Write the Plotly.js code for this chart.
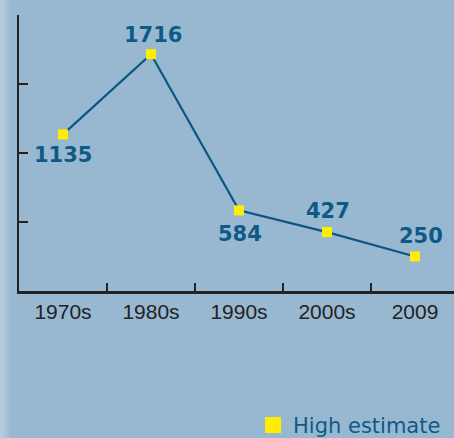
<!DOCTYPE html>
<html>
<head>
<meta charset="utf-8">
<script src="https://cdn.plot.ly/plotly-3.0.1.min.js"></script>
<style>
  html, body { margin: 0; padding: 0; }
  body {
    width: 454px; height: 438px; overflow: hidden;
    background: linear-gradient(to right, #b4cee1 0px, #acc8dd 5px, #9ebdd6 9px, #98b8d2 12px, #98b8d2 100%);
  }
  #chart { width: 454px; height: 438px; }
</style>
</head>
<body>
<div id="chart"></div>
<script>
const categories = ["1970s", "1980s", "1990s", "2000s", "2009"];
const highEstimate = [1135, 1716, 584, 427, 250];
const seriesName = "High estimate";

// label placement (style only): pixel shifts of each value label from its marker
const labelShiftY = [-21, 19, -24, 21.5, 21];
const labelShiftX = [0, 2, 1, 1, 6];

const labelColor = "#0f5a85";
const lineColor = "#0d5681";
const markerColor = "#ffee00";

const traces = [
  {
    type: "scatter",
    mode: "lines+markers",
    x: categories,
    y: highEstimate,
    line: { color: lineColor, width: 2.2 },
    marker: { symbol: "square", size: 10, color: markerColor },
    showlegend: false,
    cliponaxis: false,
    hoverinfo: "skip"
  },
  {
    type: "scatter",
    mode: "markers",
    x: [null],
    y: [null],
    name: seriesName,
    marker: { symbol: "square", size: 16, color: markerColor },
    showlegend: true
  }
];

// on a category axis a numeric x is the category's index
const annotations = categories.map((c, i) => ({
  x: i,
  y: highEstimate[i],
  xref: "x",
  yref: "y",
  text: String(highEstimate[i]),
  showarrow: false,
  xanchor: "center",
  yanchor: "middle",
  xshift: labelShiftX[i],
  yshift: labelShiftY[i],
  font: { family: "DejaVu Sans", size: 21, color: labelColor, weight: 700 }
}));

const layout = {
  width: 454,
  height: 438,
  margin: { l: 19, r: 0, t: 15, b: 146.5, pad: 0, autoexpand: false },
  paper_bgcolor: "rgba(0,0,0,0)",
  plot_bgcolor: "rgba(0,0,0,0)",
  xaxis: {
    type: "category",
    categoryorder: "array",
    categoryarray: categories,
    range: [-0.5, 4.443],
    showline: true, linecolor: "#222", linewidth: 2.5,
    ticks: "inside", ticklen: 8, tickwidth: 2, tickcolor: "#222",
    tickson: "boundaries",
    tickangle: 0,
    showgrid: false, zeroline: false,
    tickfont: { family: "Liberation Sans", size: 21, color: "#222" },
    fixedrange: true
  },
  yaxis: {
    range: [0, 2000],
    showline: true, linecolor: "#222", linewidth: 2.5,
    ticks: "inside", ticklen: 9, tickwidth: 2, tickcolor: "#222",
    tickvals: [0, 500, 1000, 1500, 2000],
    showticklabels: false,
    showgrid: false, zeroline: false,
    fixedrange: true
  },
  annotations: annotations,
  showlegend: true,
  legend: {
    x: 0.538, xanchor: "left",
    y: -0.4864, yanchor: "middle",
    bgcolor: "rgba(0,0,0,0)",
    font: { family: "DejaVu Sans", size: 21, color: labelColor },
    itemsizing: "trace"
  }
};

Plotly.newPlot("chart", traces, layout, { displayModeBar: false, staticPlot: true });
</script>
</body>
</html>
